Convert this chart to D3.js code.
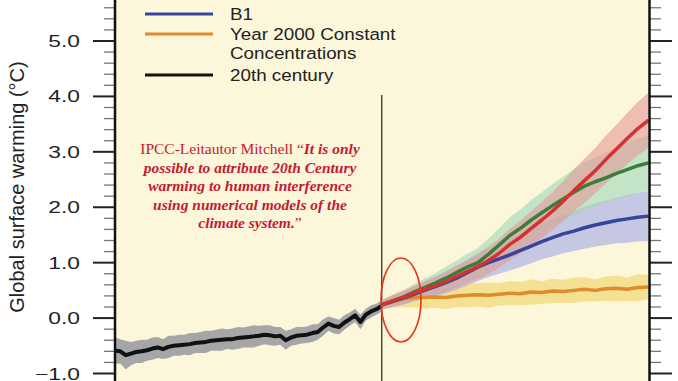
<!DOCTYPE html>
<html><head><meta charset="utf-8">
<script src="https://cdn.jsdelivr.net/npm/d3@7"></script>
<style>html,body{margin:0;padding:0;background:#fff;}svg{display:block;}</style>
</head><body>
<svg id="chart" width="678" height="381"></svg>
<script>
// ---- data ----
const histYears = d3.range(1900, 2001, 2);
const histValues = [-0.59,-0.60,-0.67,-0.64,-0.61,-0.60,-0.58,-0.55,-0.53,-0.56,-0.52,-0.50,-0.49,-0.48,-0.47,-0.45,-0.44,-0.43,-0.41,-0.40,-0.39,-0.38,-0.38,-0.36,-0.35,-0.34,-0.33,-0.32,-0.30,-0.31,-0.33,-0.32,-0.40,-0.35,-0.32,-0.31,-0.30,-0.27,-0.25,-0.17,-0.10,-0.14,-0.16,-0.08,-0.02,0.05,-0.07,0.06,0.12,0.16,0.22];
const histSpread = [0.24,0.22,0.26,0.21,0.20,0.21,0.19,0.20,0.19,0.18,0.20,0.18,0.19,0.18,0.20,0.18,0.19,0.20,0.18,0.19,0.20,0.18,0.19,0.20,0.18,0.19,0.20,0.18,0.17,0.18,0.17,0.16,0.17,0.15,0.16,0.15,0.15,0.16,0.14,0.15,0.13,0.14,0.13,0.13,0.12,0.12,0.13,0.11,0.11,0.10,0.10];

const projYears = d3.range(2000, 2101, 4);
const a2Values  = [0.24,0.31,0.37,0.45,0.52,0.58,0.66,0.75,0.84,0.93,1.04,1.17,1.33,1.46,1.62,1.77,1.93,2.11,2.30,2.48,2.66,2.86,3.05,3.24,3.42,3.57];
const a2Spread  = [0.08,0.10,0.12,0.13,0.15,0.17,0.18,0.20,0.21,0.23,0.25,0.26,0.28,0.30,0.31,0.33,0.34,0.36,0.38,0.40,0.41,0.43,0.44,0.46,0.48,0.50];
const a1bValues = [0.24,0.31,0.38,0.47,0.55,0.63,0.72,0.82,0.92,1.00,1.15,1.32,1.49,1.62,1.77,1.90,2.03,2.15,2.27,2.38,2.46,2.53,2.61,2.68,2.75,2.80];
const a1bSpread = [0.08,0.10,0.12,0.14,0.16,0.18,0.20,0.22,0.24,0.26,0.28,0.30,0.33,0.34,0.36,0.37,0.39,0.40,0.42,0.43,0.44,0.45,0.46,0.48,0.49,0.50];
const b1Values  = [0.24,0.30,0.36,0.43,0.50,0.57,0.64,0.72,0.82,0.92,1.00,1.07,1.14,1.22,1.30,1.38,1.45,1.52,1.57,1.63,1.68,1.72,1.76,1.79,1.82,1.84];
const b1Spread  = [0.08,0.10,0.12,0.13,0.15,0.17,0.19,0.21,0.23,0.25,0.26,0.27,0.28,0.30,0.31,0.32,0.34,0.35,0.36,0.38,0.39,0.40,0.41,0.43,0.44,0.45];
const constValues = [0.24,0.30,0.35,0.37,0.37,0.38,0.37,0.40,0.41,0.42,0.41,0.43,0.45,0.44,0.47,0.46,0.49,0.48,0.50,0.52,0.50,0.53,0.54,0.52,0.55,0.56];
const constSpread = [0.08,0.12,0.15,0.18,0.20,0.19,0.21,0.20,0.22,0.21,0.23,0.20,0.22,0.21,0.23,0.20,0.22,0.21,0.23,0.22,0.20,0.22,0.23,0.21,0.24,0.22];

const yMajorTicks = [-1, 0, 1, 2, 3, 4, 5];
const yTickLabels = ["\u22121.0","0.0","1.0","2.0","3.0","4.0","5.0"];
const legendLabels = [["B1"], ["Year 2000 Constant","Concentrations"], ["20th century"]];
const quoteLines = [
  [["IPCC-Leitautor Mitchell \u201C", false], ["It is only", true]],
  [["possible to attribute 20th Century", true]],
  [["warming to human interference", true]],
  [["using numerical models of the", true]],
  [["climate system.", true], ["\u201D", false]]
];

// ---- drawing ----
const svg = d3.select("#chart");
const x = d3.scaleLinear().domain([1900, 2100]).range([115, 648.5]);
const y = d3.scaleLinear().domain([-1, 5]).range([373.5, 41]);

svg.append("rect").attr("x", 0).attr("y", 0).attr("width", 678).attr("height", 381).attr("fill", "#fff");
svg.append("rect").attr("x", x(1900)).attr("y", 0).attr("width", x(2100) - x(1900)).attr("height", 381).attr("fill", "#fcf6da");

const area = (vals, spr, yrs) => d3.area().x((d, i) => x(yrs[i])).y0((d, i) => y(vals[i] - spr[i])).y1((d, i) => y(vals[i] + spr[i]))(vals);
const line = (vals, yrs) => d3.line().x((d, i) => x(yrs[i])).y((d) => y(d))(vals);

const series = [
  {v: constValues, s: constSpread, band: "#f0d66e", bo: 0.65, stroke: "#df8a2c"},
  {v: b1Values, s: b1Spread, band: "#a9aee6", bo: 0.65, stroke: "#34469c"},
  {v: a1bValues, s: a1bSpread, band: "#9fd9bd", bo: 0.6, stroke: "#3b7d3b"},
  {v: a2Values, s: a2Spread, band: "#e49a9a", bo: 0.6, stroke: "#d63030"}
];

// vertical line at 2000
svg.append("line").attr("x1", x(2000)).attr("x2", x(2000)).attr("y1", 95).attr("y2", 381).attr("stroke", "#333").attr("stroke-width", 1.3);

// historical band + line
svg.append("path").attr("d", area(histValues, histSpread, histYears)).attr("fill", "#a6a6a6");
series.forEach(s => svg.append("path").attr("d", area(s.v, s.s, projYears)).attr("fill", s.band).attr("fill-opacity", s.bo));
svg.append("path").attr("d", line(histValues, histYears)).attr("fill", "none").attr("stroke", "#111").attr("stroke-width", 4).attr("stroke-linejoin", "round");
series.forEach(s => svg.append("path").attr("d", line(s.v, projYears)).attr("fill", "none").attr("stroke", s.stroke).attr("stroke-width", 3.5).attr("stroke-linejoin", "round"));

// red ellipse
svg.append("ellipse").attr("cx", 401).attr("cy", 300).attr("rx", 20).attr("ry", 42).attr("fill", "none").attr("stroke", "#e2381c").attr("stroke-width", 1.6);

// axes
const minorTicks = d3.range(-1, 5.8, 0.2).filter(v => Math.abs(v - Math.round(v)) > 0.01);
const axisG = svg.append("g");
minorTicks.forEach(v => {
  axisG.append("line").attr("x1", 104).attr("x2", 115).attr("y1", y(v)).attr("y2", y(v)).attr("stroke", "#777").attr("stroke-width", 1.3);
  axisG.append("line").attr("x1", 649).attr("x2", 661).attr("y1", y(v)).attr("y2", y(v)).attr("stroke", "#777").attr("stroke-width", 1.3);
});
yMajorTicks.forEach(v => {
  axisG.append("line").attr("x1", 93).attr("x2", 115).attr("y1", y(v)).attr("y2", y(v)).attr("stroke", "#222").attr("stroke-width", 2);
  axisG.append("line").attr("x1", 649).attr("x2", 672).attr("y1", y(v)).attr("y2", y(v)).attr("stroke", "#222").attr("stroke-width", 2);
});
axisG.append("line").attr("x1", 115).attr("x2", 115).attr("y1", 0).attr("y2", 381).attr("stroke", "#111").attr("stroke-width", 2.5);
axisG.append("line").attr("x1", 649.5).attr("x2", 649.5).attr("y1", 0).attr("y2", 381).attr("stroke", "#111").attr("stroke-width", 2.5);

yMajorTicks.forEach((v, i) => {
  svg.append("text").attr("transform", `translate(80,${y(v) + 6}) scale(1.38,1)`)
    .attr("text-anchor", "end").attr("font-family", "Liberation Sans, Arial, sans-serif").attr("font-size", 16.5).attr("fill", "#222")
    .text(yTickLabels[i]);
});

svg.append("text").attr("transform", `translate(24,187) rotate(-90) scale(1.25,1.25)`)
  .attr("text-anchor", "middle").attr("font-family", "Liberation Sans, Arial, sans-serif").attr("font-size", 16).attr("fill", "#222")
  .text("Global surface warming (\u00B0C)");

// legend
const legendColors = ["#34469c", "#df8a2c", "#111"];
const legendY = [14, 34, 75];
legendLabels.forEach((lab, i) => {
  svg.append("line").attr("x1", 145).attr("x2", 213).attr("y1", legendY[i]).attr("y2", legendY[i]).attr("stroke", legendColors[i]).attr("stroke-width", 3);
  lab.forEach((t, j) => {
    svg.append("text").attr("transform", `translate(230,${legendY[i] + 6 + j * 19}) scale(1.14,1)`)
      .attr("font-family", "Liberation Sans, Arial, sans-serif").attr("font-size", 16.5).attr("fill", "#222").text(t);
  });
});

// quote
const qG = svg.append("g").attr("font-family", "Liberation Serif, Times New Roman, serif").attr("font-size", 15.5).attr("fill", "#c41a32");
quoteLines.forEach((parts, i) => {
  const t = qG.append("text").attr("x", 250).attr("y", 154 + i * 18.5).attr("text-anchor", "middle");
  parts.forEach(p => {
    const ts = t.append("tspan").text(p[0]);
    if (p[1]) ts.attr("font-weight", "bold").attr("font-style", "italic");
  });
});
</script>
</body></html>
